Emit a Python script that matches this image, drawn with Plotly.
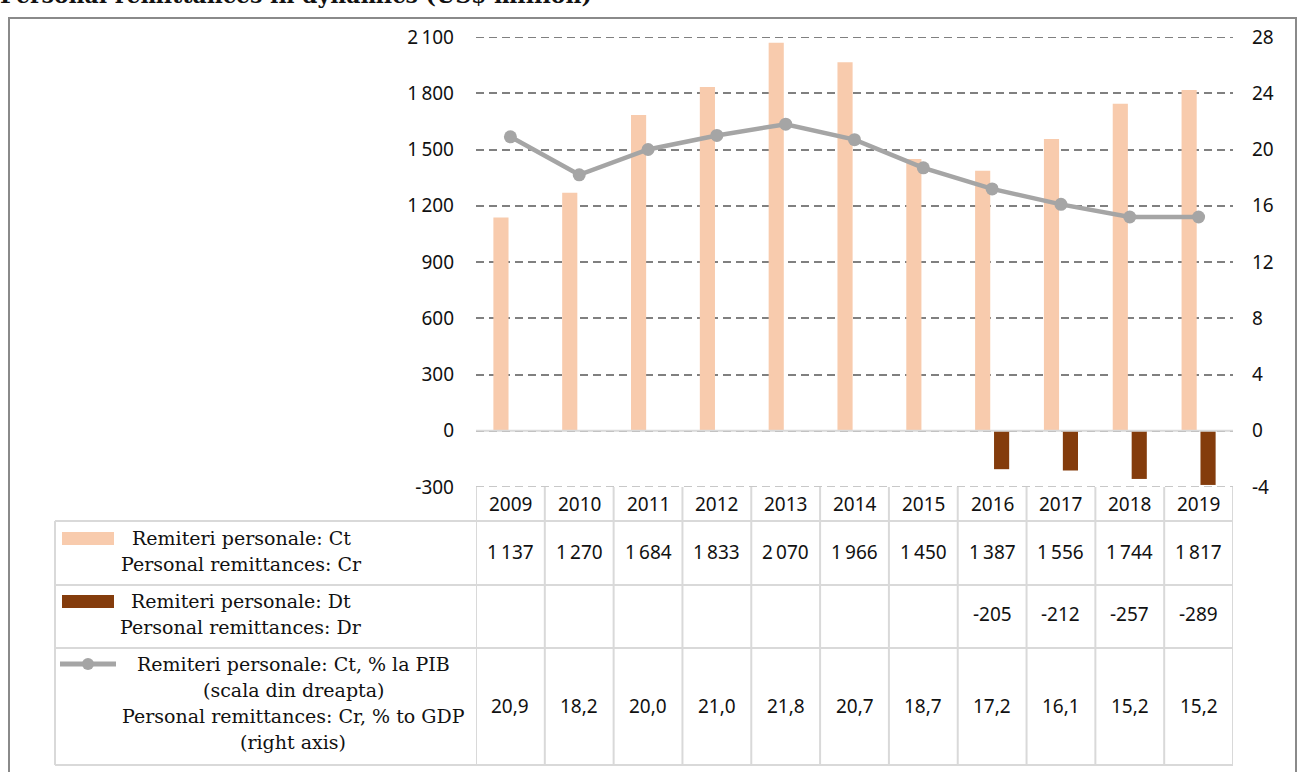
import plotly.graph_objects as go

# ---------------- data ----------------
years = ["2009", "2010", "2011", "2012", "2013", "2014", "2015", "2016", "2017", "2018", "2019"]
credit = [1137, 1270, 1684, 1833, 2070, 1966, 1450, 1387, 1556, 1744, 1817]
debit = [None, None, None, None, None, None, None, -205, -212, -257, -289]
credit_pct_gdp = [20.9, 18.2, 20.0, 21.0, 21.8, 20.7, 18.7, 17.2, 16.1, 15.2, 15.2]

left_tickvals = [-300, 0, 300, 600, 900, 1200, 1500, 1800, 2100]
left_ticktext = ["-300", "0", "300", "600", "900", "1\u2009200", "1\u2009500", "1\u2009800", "2\u2009100"]
right_tickvals = [-4, 0, 4, 8, 12, 16, 20, 24, 28]
right_ticktext = ["-4", "0", "4", "8", "12", "16", "20", "24", "28"]

legend_credit = ["Remiteri personale: Ct", "Personal remittances: Cr"]
legend_debit = ["Remiteri personale: Dt", "Personal remittances: Dr"]
legend_pct = ["Remiteri personale: Ct, % la PIB", "(scala din dreapta)",
              "Personal remittances: Cr, % to GDP", "(right axis)"]
title_text = "Personal remittances in dynamics (US$ million)"

C_CREDIT = "#F8CBAD"
C_DEBIT = "#843C0C"
C_LINE = "#A5A5A5"
C_TABLE = "#D9D9D9"
C_GRID = "#808080"

W, H = 1299, 772
ML, MR, MT, MB = 476, 66, 37, 285
PW, PH = W - ML - MR, H - MT - MB

def py(p):  # pixel y -> paper
    return (H - MB - p) / PH

def px(p):  # pixel x -> paper
    return (p - ML) / PW

def fmt_int(v):
    if v is None:
        return ""
    s = f"{abs(v):,}".replace(",", "\u2009")
    return ("-" if v < 0 else "") + s

def fmt_dec(v):
    return f"{v:.1f}".replace(".", ",")

SANS = "Noto Sans"
SERIF = "DejaVu Serif"
idx = list(range(len(years)))

fig = go.Figure()
fig.add_trace(go.Bar(x=idx, y=credit, marker=dict(color=C_CREDIT, line=dict(width=0)),
                     name=legend_credit[0], yaxis="y"))
fig.add_trace(go.Bar(x=idx, y=debit, marker=dict(color=C_DEBIT, line=dict(width=0)),
                     name=legend_debit[0], yaxis="y"))
fig.add_trace(go.Scatter(x=idx, y=credit_pct_gdp, yaxis="y2", mode="lines+markers",
                         line=dict(color=C_LINE, width=4.5),
                         marker=dict(color=C_LINE, size=13), name=legend_pct[0]))

shapes = []
annotations = []

# top gridline (edge of range) and zero line
shapes.append(dict(type="line", xref="paper", yref="y", x0=0, x1=1,
                   y0=left_tickvals[-1], y1=left_tickvals[-1],
                   line=dict(color=C_GRID, width=1.8, dash="8px,5px"), layer="below"))
shapes.append(dict(type="line", xref="paper", yref="y", x0=0, x1=1, y0=0, y1=0,
                   line=dict(color=C_TABLE, width=2), layer="above"))

# table geometry (pixels)
row_edges = [487, 521, 585, 648, 765]
col_left = 55

shapes.append(dict(type="line", xref="paper", yref="y", x0=0, x1=1,
                   y0=left_tickvals[0], y1=left_tickvals[0],
                   line=dict(color="#C8C8C8", width=2, dash="8px,5px")))
for r in row_edges[1:]:
    shapes.append(dict(type="line", xref="paper", yref="paper", x0=px(col_left), x1=1,
                       y0=py(r), y1=py(r), line=dict(color=C_TABLE, width=2)))
for i in range(len(years) + 1):
    shapes.append(dict(type="line", xref="x", yref="paper", x0=i - 0.5, x1=i - 0.5,
                       y0=py(row_edges[0]), y1=py(row_edges[-1]), line=dict(color=C_TABLE, width=2)))
shapes.append(dict(type="line", xref="paper", yref="paper", x0=px(col_left), x1=px(col_left),
                   y0=py(row_edges[1]), y1=py(row_edges[-1]), line=dict(color=C_TABLE, width=2)))

# legend keys
shapes.append(dict(type="rect", xref="paper", yref="paper", x0=px(62), x1=px(114),
                   y0=py(545), y1=py(532), fillcolor=C_CREDIT, line=dict(width=0)))
shapes.append(dict(type="rect", xref="paper", yref="paper", x0=px(62), x1=px(114),
                   y0=py(608), y1=py(595), fillcolor=C_DEBIT, line=dict(width=0)))
shapes.append(dict(type="line", xref="paper", yref="paper", x0=px(60), x1=px(116),
                   y0=py(664), y1=py(664), line=dict(color=C_LINE, width=5)))
shapes.append(dict(type="circle", xref="paper", yref="paper", x0=px(82), x1=px(94),
                   y0=py(670), y1=py(658), fillcolor=C_LINE, line=dict(width=0)))

# outer frame
shapes.append(dict(type="rect", xref="paper", yref="paper", x0=px(9), x1=px(1296),
                   y0=py(800), y1=py(18), line=dict(color="#8A8A8A", width=2), layer="below"))

def add_lines(lines, centre_x, first_y, step=26):
    for k, t in enumerate(lines):
        annotations.append(dict(text=t, xref="paper", yref="paper", x=px(centre_x),
                                y=py(first_y + k * step), xanchor="center", yanchor="middle",
                                showarrow=False, font=dict(family=SERIF, size=19, color="#111")))

add_lines(legend_credit, 241, 538)
add_lines(legend_debit, 241, 601)
add_lines(legend_pct, 293, 664)

num_font = dict(family=SANS, size=19, color="#111")
for i, yr in enumerate(years):
    common = dict(xref="x", yref="paper", x=i, xanchor="center", yanchor="middle",
                  showarrow=False, font=num_font)
    annotations.append(dict(text=yr, y=py(504), **common))
    annotations.append(dict(text=fmt_int(credit[i]), y=py(552), **common))
    if debit[i] is not None:
        annotations.append(dict(text=fmt_int(debit[i]), y=py(614), **common))
    annotations.append(dict(text=fmt_dec(credit_pct_gdp[i]), y=py(706), **common))

annotations.append(dict(text="<b>" + title_text + "</b>", xref="paper", yref="paper",
                        x=px(-2), y=py(10), xanchor="left", yanchor="bottom", showarrow=False,
                        font=dict(family=SERIF, size=22, color="#111")))

fig.update_layout(
    width=W, height=H,
    margin=dict(l=ML, r=MR, t=MT, b=MB, pad=0),
    paper_bgcolor="white", plot_bgcolor="white",
    barmode="group", bargap=0.45, bargroupgap=0.2,
    showlegend=False,
    xaxis=dict(range=[-0.5, len(years) - 0.5], showticklabels=False, showgrid=False, zeroline=False,
               showline=False, ticks="", fixedrange=True),
    yaxis=dict(range=[-300, 2100], tickvals=left_tickvals, ticktext=left_ticktext,
               showgrid=True, gridcolor=C_GRID, griddash="8px,5px", gridwidth=1.8,
               zeroline=False, showline=False, ticks="",
               tickfont=dict(family=SANS, size=19, color="#111"), ticklabelstandoff=21),
    yaxis2=dict(range=[-4, 28], tickvals=right_tickvals, ticktext=right_ticktext,
                overlaying="y", side="right", showgrid=False, zeroline=False, showline=False,
                ticks="", tickfont=dict(family=SANS, size=19, color="#111"), ticklabelstandoff=18),
    shapes=shapes, annotations=annotations,
)

fig.write_html("out.html", post_script="document.body.style.margin='0';",
               config={"displayModeBar": False})
